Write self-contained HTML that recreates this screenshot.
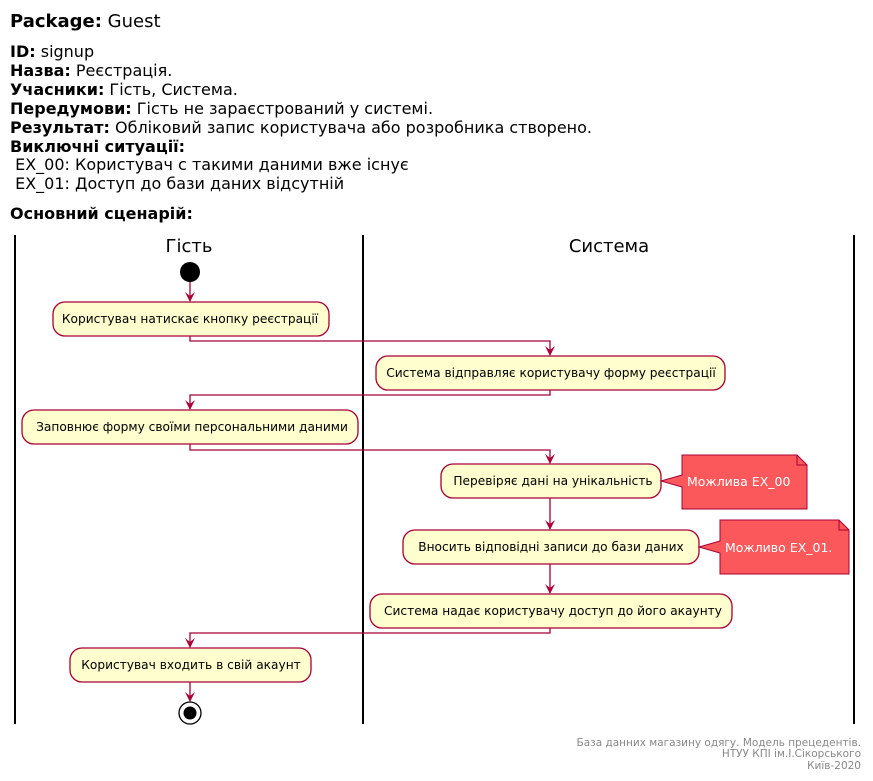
<!DOCTYPE html>
<html><head><meta charset="utf-8"><style>
html,body{margin:0;padding:0;background:#fff;}
svg{display:block;font-family:"DejaVu Sans","Liberation Sans",sans-serif;}
</style></head><body>
<svg width="873" height="781" viewBox="0 0 873 781" xmlns="http://www.w3.org/2000/svg">
<defs>
<marker id="a" viewBox="0 0 10 10" refX="9" refY="5" markerWidth="10" markerHeight="10" markerUnits="userSpaceOnUse" orient="auto">
<path d="M0,0 L10,5 L0,10 L4,5 Z" fill="#A80036"/>
</marker>
</defs>
<g font-size="16" fill="#000">
<text x="10" y="27" font-size="18"><tspan font-weight="bold">Package:</tspan> Guest</text>
<text x="10" y="57"><tspan font-weight="bold">ID:</tspan> signup</text>
<text x="10" y="76"><tspan font-weight="bold">Назва:</tspan> Реєстрація.</text>
<text x="10" y="95"><tspan font-weight="bold">Учасники:</tspan> Гість, Система.</text>
<text x="10" y="114"><tspan font-weight="bold">Передумови:</tspan> Гість не зараєстрований у системі.</text>
<text x="10" y="133"><tspan font-weight="bold">Результат:</tspan> Обліковий запис користувача або розробника створено.</text>
<text x="10" y="152" font-weight="bold">Виключні ситуації:</text>
<text x="10" y="170" xml:space="preserve"> EX_00: Користувач с такими даними вже існує</text>
<text x="10" y="189" xml:space="preserve"> EX_01: Доступ до бази даних відсутній</text>
<text x="10" y="219" font-weight="bold">Основний сценарій:</text>
</g>
<g stroke="#000" stroke-width="2">
<line x1="15" y1="235" x2="15" y2="724"/>
<line x1="363" y1="235" x2="363" y2="724"/>
<line x1="854" y1="235" x2="854" y2="724"/>
</g>
<text x="189" y="252" font-size="18" text-anchor="middle">Гість</text>
<text x="609" y="252" font-size="18" text-anchor="middle">Система</text>
<circle cx="190" cy="272" r="10" fill="#000"/>
<g stroke="#A80036" stroke-width="1.3" fill="none" marker-end="url(#a)">
<path d="M190,282 V301"/>
<path d="M190,336 V341 H550 V355"/>
<path d="M550,390 V395 H190 V409"/>
<path d="M190,444 V450 H550 V463"/>
<path d="M550,498 V529"/>
<path d="M550,564 V593"/>
<path d="M550,628 V633 H190 V647"/>
<path d="M190,682 V701"/>
</g>
<g fill="#FEFECE" stroke="#A80036" stroke-width="1.3">
<rect x="53" y="302" width="276" height="34" rx="12"/>
<rect x="376" y="356" width="349" height="34" rx="12"/>
<rect x="22" y="410" width="336" height="34" rx="12"/>
<rect x="441" y="464" width="220" height="34" rx="12"/>
<rect x="403" y="530" width="296" height="34" rx="12"/>
<rect x="370" y="594" width="362" height="34" rx="12"/>
<rect x="70" y="648" width="241" height="34" rx="12"/>
</g>
<g font-size="12.2" text-anchor="middle" fill="#000">
<text x="190" y="323">Користувач натискає кнопку реєстрації</text>
<text x="551" y="377">Система відправляє користувачу форму реєстрації</text>
<text x="192" y="431">Заповнює форму своїми персональними даними</text>
<text x="553" y="485">Перевіряє дані на унікальність</text>
<text x="551" y="551">Вносить відповідні записи до бази даних</text>
<text x="553" y="615">Система надає користувачу доступ до його акаунту</text>
<text x="191" y="669">Користувач входить в свій акаунт</text>
</g>
<circle cx="190" cy="713" r="11" fill="none" stroke="#000" stroke-width="1.3"/>
<circle cx="190" cy="713" r="6.5" fill="#000"/>
<g fill="#FA585A" stroke="#A80036" stroke-width="1">
<path d="M682,455 H797 L807,465 V509 H682 V487 L661,481 L682,475 Z"/>
<path d="M797,455 V465 H807" fill="none"/>
<path d="M720,520 H839 L849,530 V574 H720 V553 L699,547 L720,541 Z"/>
<path d="M839,520 V530 H849" fill="none"/>
</g>
<g font-size="12.5" fill="#fff">
<text x="687" y="486">Можлива EX_00</text>
<text x="725" y="552">Можливо EX_01.</text>
</g>
<g font-size="10.5" fill="#888" text-anchor="end">
<text x="861" y="746">База данних магазину одягу. Модель прецедентів.</text>
<text x="861" y="757">НТУУ КПІ ім.І.Сікорського</text>
<text x="861" y="769">Київ-2020</text>
</g>
</svg>
</body></html>
